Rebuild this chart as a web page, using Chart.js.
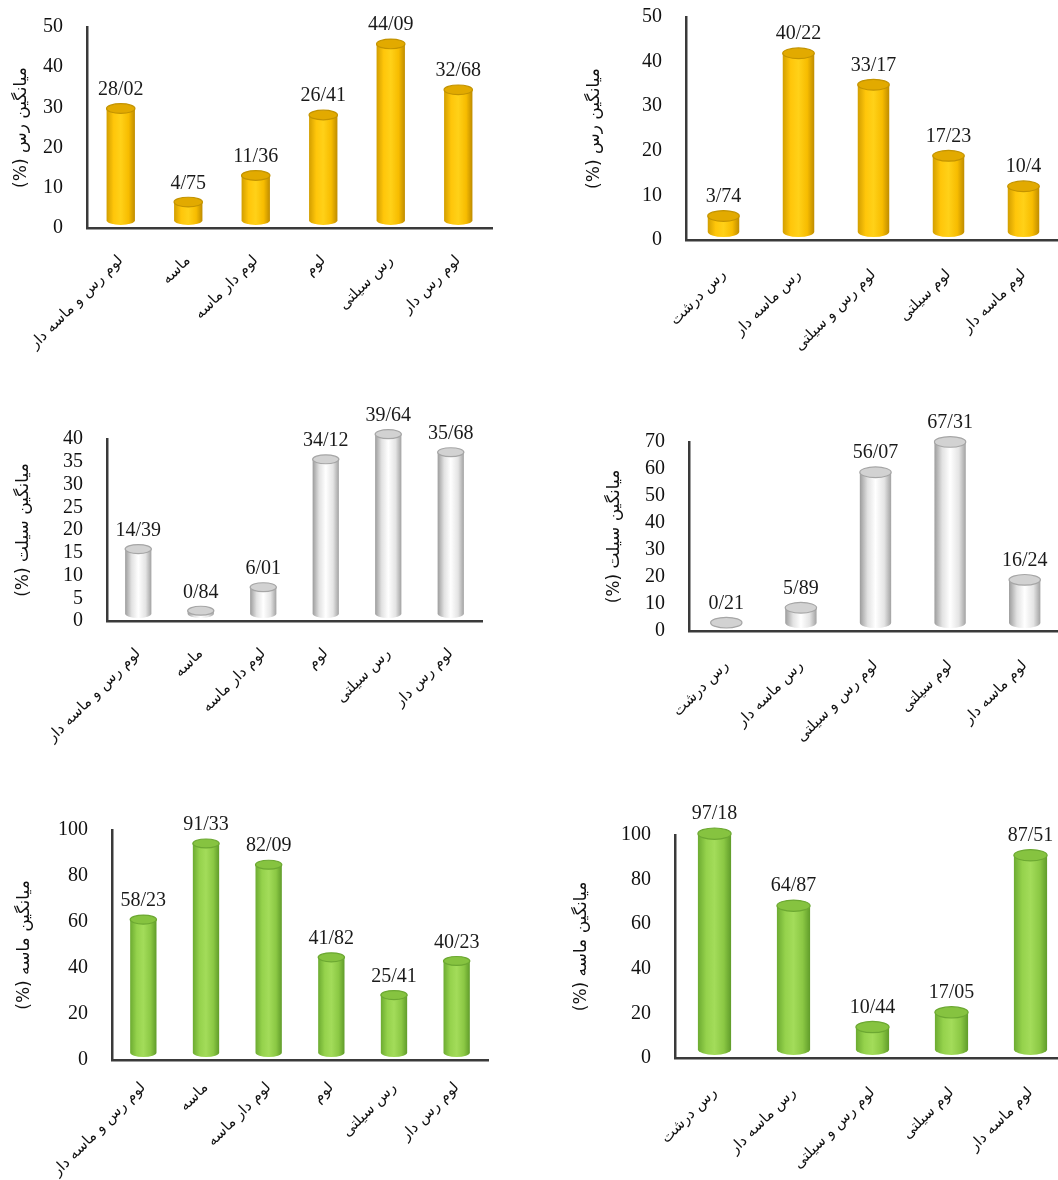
<!DOCTYPE html>
<html>
<head>
<meta charset="utf-8">
<script src="https://cdn.jsdelivr.net/npm/chart.js@4.4.0/dist/chart.umd.min.js"></script>
<style>
  html, body { margin: 0; padding: 0; background: #fff; overflow: hidden; width: 1058px; height: 1180px; position: relative; }
  .box { position: absolute; }
</style>
</head>
<body>
<script>
// soil texture classes (two sets of samples)
var groupsA = ['لوم رس و ماسه دار', 'ماسه', 'لوم دار ماسه', 'لوم', 'رس سیلتی', 'لوم رس دار'];
var groupsB = ['رس درشت', 'رس ماسه دار', 'لوم رس و سیلتی', 'لوم سیلتی', 'لوم ماسه دار'];

// mean clay / silt / sand (%)
var clayA = [28.02, 4.75, 11.36, 26.41, 44.09, 32.68];
var clayB = [3.74, 40.22, 33.17, 17.23, 10.4];
var siltA = [14.39, 0.84, 6.01, 34.12, 39.64, 35.68];
var siltB = [0.21, 5.89, 56.07, 67.31, 16.24];
var sandA = [58.23, 91.33, 82.09, 41.82, 25.41, 40.23];
var sandB = [97.18, 64.87, 10.44, 17.05, 87.51];

// y axis ranges [max, step]
var clayTicks = [50, 10];
var siltTicksA = [40, 5];
var siltTicksB = [70, 10];
var sandTicks = [100, 20];

var clayTitle = 'میانگین رس (%)';
var siltTitle = 'میانگین سیلت (%)';
var sandTitle = 'میانگین ماسه (%)';

var themes = {
    gold: { stops: ['#D29E00', '#FFC60A', '#FFD118', '#F7BC00', '#BF8C00'], cap: '#E2AA00', rim: '#C39300' },
    silver: { stops: ['#9C9C9C', '#E2E2E2', '#FFFFFF', '#E4E4E4', '#A2A2A2'], cap: '#D2D2D2', rim: '#A6A6A6' },
    green: { stops: ['#6CAB31', '#95D24C', '#A3DC5A', '#8BC844', '#609C2A'], cap: '#86C340', rim: '#6CA832' }
};

// cylinders + value labels drawn from the bar elements the library lays out
var cylinders = {
    id: 'cylinders',
    afterDatasetsDraw: function(chart) {
        var ctx = chart.ctx;
        var theme = themes[chart.options.plugins.cylinders.theme];
        var meta = chart.getDatasetMeta(0);
        var values = chart.data.datasets[0].data;
        ctx.save();
        meta.data.forEach(function(el, i) {
            var p = el.getProps(['x', 'y', 'base', 'width'], true);
            var rx = p.width / 2;
            var ry = p.width * 0.17;
            var bottom = p.base - ry - 3;
            var top = Math.min(p.y - ry - 2, bottom);
            var l = p.x - rx, r = p.x + rx;
            var g = ctx.createLinearGradient(l, 0, r, 0);
            var st = theme.stops;
            g.addColorStop(0, st[0]);
            g.addColorStop(0.25, st[1]);
            g.addColorStop(0.5, st[2]);
            g.addColorStop(0.78, st[3]);
            g.addColorStop(1, st[4]);
            ctx.beginPath();
            ctx.moveTo(l, top);
            ctx.lineTo(l, bottom);
            ctx.ellipse(p.x, bottom, rx, ry, 0, Math.PI, 0, true);
            ctx.lineTo(r, top);
            ctx.closePath();
            ctx.fillStyle = g;
            ctx.fill();
            ctx.beginPath();
            ctx.ellipse(p.x, top, rx, ry, 0, 0, Math.PI * 2);
            ctx.fillStyle = theme.cap;
            ctx.fill();
            ctx.lineWidth = 1.2;
            ctx.strokeStyle = theme.rim;
            ctx.stroke();
            ctx.fillStyle = '#1a1a1a';
            ctx.font = '20px "Liberation Serif", "Times New Roman", serif';
            ctx.textAlign = 'center';
            ctx.textBaseline = 'bottom';
            ctx.fillText(String(values[i]).replace('.', '/'), p.x, top - ry - 4);
        });
        ctx.restore();
    }
};

var panels = [
    { labels: groupsA, values: clayA, ticks: clayTicks, title: clayTitle, theme: 'gold', plot: [87, 27, 492, 228], titleX: 25, catPad: 16 },
    { labels: groupsB, values: clayB, ticks: clayTicks, title: clayTitle, theme: 'gold', plot: [686, 17, 1061, 240], titleX: 598, catPad: 18 },
    { labels: groupsA, values: siltA, ticks: siltTicksA, title: siltTitle, theme: 'silver', plot: [107, 439, 482, 621], titleX: 27, catPad: 16 },
    { labels: groupsB, values: siltB, ticks: siltTicksB, title: siltTitle, theme: 'silver', plot: [689, 442, 1062, 631], titleX: 618, catPad: 18 },
    { labels: groupsA, values: sandA, ticks: sandTicks, title: sandTitle, theme: 'green', plot: [112, 830, 488, 1060], titleX: 28, catPad: 11 },
    { labels: groupsB, values: sandB, ticks: sandTicks, title: sandTitle, theme: 'green', plot: [675, 835, 1070, 1058], titleX: 585, catPad: 18 }
];

var padTop = 45, axisH = 130;

panels.forEach(function(pn) {
    var left = pn.titleX - 14;
    var top = pn.plot[1] - padTop;
    var width = pn.plot[2] - left + 4;
    var height = pn.plot[3] + axisH - top;
    var yW = pn.plot[0] - left;

    var box = document.createElement('div');
    box.className = 'box';
    box.style.left = left + 'px';
    box.style.top = top + 'px';
    box.style.width = width + 'px';
    box.style.height = height + 'px';
    var cv = document.createElement('canvas');
    cv.setAttribute('dir', 'rtl');
    box.appendChild(cv);
    document.body.appendChild(box);

    new Chart(cv, {
        type: 'bar',
        data: {
            labels: pn.labels,
            datasets: [{
                data: pn.values,
                backgroundColor: 'rgba(0,0,0,0)',
                borderWidth: 0,
                barPercentage: 0.42,
                categoryPercentage: 1
            }]
        },
        plugins: [cylinders],
        options: {
            responsive: true,
            maintainAspectRatio: false,
            animation: false,
            layout: { padding: { top: padTop, right: 4, left: 0, bottom: 0 } },
            plugins: {
                legend: { display: false },
                tooltip: { enabled: false },
                cylinders: { theme: pn.theme }
            },
            scales: {
                x: {
                    grid: { display: false },
                    border: { display: true, color: '#3a3a3a', width: 2.5 },
                    afterFit: function(s) {
                        s.height = axisH;
                        s.paddingLeft = 0;
                        s.paddingRight = 0;
                    },
                    ticks: {
                        autoSkip: false,
                        minRotation: 45,
                        maxRotation: 45,
                        padding: pn.catPad,
                        color: '#111',
                        font: { family: '"DejaVu Sans", sans-serif', size: 15 }
                    }
                },
                y: {
                    min: 0,
                    max: pn.ticks[0],
                    grid: { display: false },
                    border: { display: true, color: '#3a3a3a', width: 2.5 },
                    afterFit: function(s) { s.width = yW; },
                    ticks: {
                        autoSkip: false,
                        stepSize: pn.ticks[1],
                        padding: 16,
                        color: '#111',
                        font: { family: '"Liberation Serif", "Times New Roman", serif', size: 20 }
                    },
                    title: {
                        display: true,
                        text: pn.title,
                        color: '#111',
                        padding: { top: 0, bottom: 0 },
                        font: { family: '"DejaVu Sans", sans-serif', size: 17 }
                    }
                }
            }
        }
    });
});
</script>
</body>
</html>
